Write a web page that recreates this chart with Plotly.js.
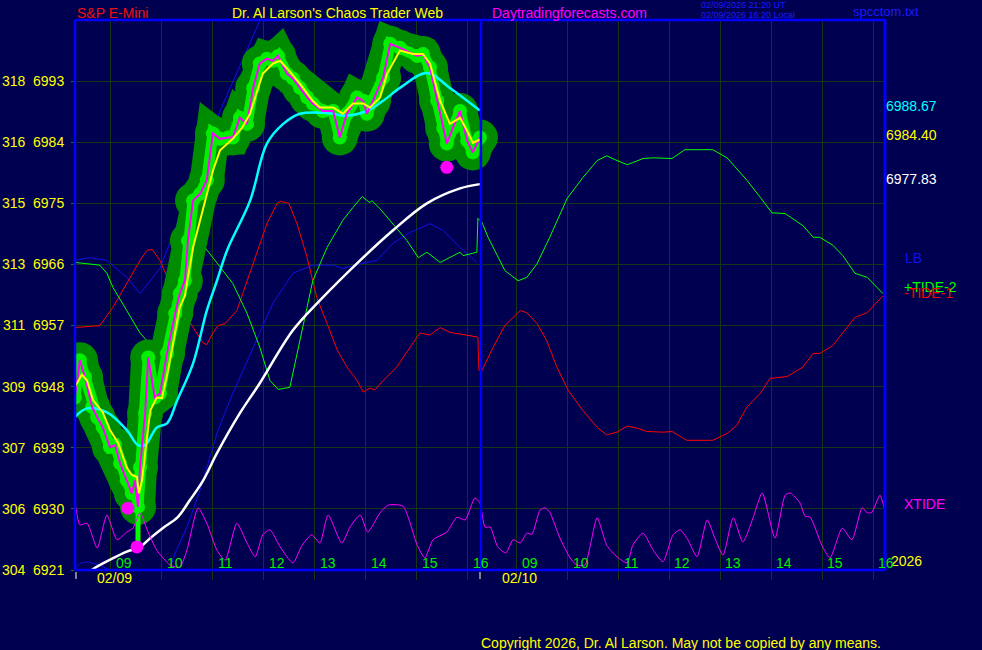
<!DOCTYPE html>
<html><head><meta charset="utf-8">
<script src="https://cdn.plot.ly/plotly-3.0.1.min.js"></script>
<style>html,body{margin:0;padding:0;background:#000050;overflow:hidden}#chart{width:982px;height:650px;}</style>
</head><body><div id="chart"></div>
<script>
// ---- time axis: t in clock hours; day 2 (02/10) coded as clock + 24 ----
const DAY2 = 7.96;           // session length used to join the two days on one axis
const SESSION_START = 8.294; // left edge of day 1
const SESSION_END2 = 24.189; // right edge of day 2 (axis units)
const hours = [9, 10, 11, 12, 13, 14, 15, 16];
const hourLabels = ["09", "10", "11", "12", "13", "14", "15", "16"];
const dayLabels = ["02/09", "02/10"];

// ---- price axis ----
const priceTicks = [6921, 6930, 6939, 6948, 6957, 6966, 6975, 6984, 6993];
const leftTicks = ["304", "306", "307", "309", "311", "313", "315", "316", "318"];

// ---- S&P E-Mini price (magenta) ----
const priceT = [8.29,8.39,8.49,8.63,8.73,8.84,8.98,9.08,9.18,9.31,9.41,9.47,9.53,9.57,9.67,9.73,9.86,9.96,10.10,10.26,10.35,10.45,10.51,10.61,10.75,10.88,11.00,11.14,11.30,11.39,11.53,11.67,11.79,11.92,12.06,12.18,12.28,12.45,12.57,12.71,12.85,12.96,13.16,13.36,13.49,13.63,13.83,13.95,14.02,14.14,14.34,14.48,14.67,15.01,15.12,15.26,15.40,15.52,15.59,15.71,15.85,15.99,16.10,16.24];
const priceV = [6946.4,6951.9,6949.4,6945.0,6943.5,6942.0,6939.1,6939.4,6936.7,6934.2,6932.3,6934.2,6930.3,6936.1,6944.1,6952.3,6946.4,6947.0,6952.9,6958.8,6961.7,6963.6,6969.5,6975.4,6976.4,6978.4,6985.3,6984.5,6984.7,6984.7,6987.6,6986.7,6992.0,6995.6,6996.3,6996.0,6996.7,6994.1,6993.4,6992.0,6990.6,6989.7,6988.6,6988.6,6984.7,6988.2,6990.6,6990.1,6988.2,6990.1,6993.5,6998.5,6997.9,6996.7,6997.0,6995.0,6990.1,6986.1,6983.8,6986.1,6988.6,6984.2,6982.5,6984.7];

// ---- short average (yellow) ----
const fastT = [8.29,8.43,8.53,8.65,8.84,8.98,9.14,9.31,9.41,9.51,9.55,9.61,9.67,9.77,9.90,10.00,10.12,10.26,10.35,10.45,10.61,10.75,10.88,11.00,11.14,11.28,11.39,11.57,11.73,11.87,11.98,12.18,12.32,12.51,12.71,12.96,13.10,13.36,13.55,13.75,13.95,14.08,14.28,14.42,14.67,14.93,15.12,15.26,15.46,15.65,15.85,15.99,16.10,16.24];
const fastV = [6947.9,6949.8,6948.9,6946.0,6944.2,6941.6,6939.7,6936.1,6935.0,6934.7,6932.3,6934.2,6938.2,6944.5,6946.4,6946.3,6950.4,6956.3,6959.7,6961.4,6968.5,6972.5,6976.4,6979.8,6982.8,6983.8,6984.5,6986.1,6988.2,6991.6,6994.1,6995.6,6996.0,6994.4,6992.6,6990.1,6989.1,6989.1,6988.2,6989.7,6989.7,6989.1,6990.6,6994.1,6997.5,6997.0,6997.0,6995.6,6990.1,6986.7,6987.6,6985.7,6983.9,6984.40];

// ---- medium average (cyan) ----
const midT = [8.29,8.53,8.92,9.31,9.53,9.67,9.90,10.10,10.30,10.61,10.88,11.08,11.28,11.73,12.06,12.38,12.71,13.36,13.55,14.02,14.34,14.67,15.20,15.65,16.24];
const midV = [6943.5,6944.8,6944.2,6941.6,6939.4,6939.4,6942.0,6942.6,6946.0,6951.4,6959.2,6963.6,6968.1,6975.4,6983.8,6986.7,6988.2,6988.2,6987.9,6988.6,6990.1,6992.0,6994.2,6992.0,6988.67];

// ---- long average (white) ----
const slowT = [8.39,8.65,8.98,9.31,9.57,9.77,10.02,10.30,10.55,10.81,11.08,11.53,11.92,12.57,13.10,13.89,14.53,15.20,15.85,16.24];
const slowV = [6919.8,6921.15,6922.5,6923.7,6924.4,6925.7,6927.2,6928.7,6931.3,6934.2,6938.2,6944.1,6948.5,6956.3,6960.7,6966.6,6971.0,6975.0,6977.2,6977.83];

// ---- LB lines (blue) ----
const lbT = [8.29,8.59,8.92,9.31,9.57,9.77,9.96,10.55,11.14,11.92,12.22];
const lbV = [6966.6,6967.0,6966.6,6964.1,6961.7,6963.6,6965.4,6976.9,6988.6,7001.9,7007.0];
const lb2T = [8.31,8.39,8.55,8.78,8.94,9.18,9.96,10.16,10.26,10.49,10.75,10.98,11.10,11.39,11.79,12.18,12.57,12.96,13.36,13.55,13.89,14.22,14.53,14.87,15.26,15.52,15.85,16.18];
const lb2V = [6921.3,6922.0,6922.2,6921.7,6921.1,6919.8,6919.8,6921.4,6923.5,6927.3,6932.8,6938.6,6941.6,6947.0,6953.8,6960.3,6964.7,6965.9,6965.9,6965.4,6966.1,6966.6,6969.1,6970.7,6972.0,6971.0,6968.5,6966.3];

// ---- +TIDE-2 (green) ----
const tide2T = [8.29,8.78,8.92,9.04,9.31,9.57,9.82,10.22,10.61,10.81,11.00,11.14,11.39,11.67,11.92,12.12,12.28,12.51,12.71,12.96,13.24,13.55,13.75,13.93,14.08,14.12,14.28,14.53,14.81,15.03,15.20,15.46,15.71,15.85,15.91,16.18,16.20,
  32.32,32.44,32.54,32.77,33.03,33.20,33.40,33.65,33.99,34.30,34.58,34.77,34.97,35.17,35.28,35.48,35.68,35.91,36.05,36.30,36.85,37.13,37.32,37.52,37.78,38.01,38.27,38.62,38.82,38.95,39.21,39.40,39.64,39.88,40.19];
const tide2V = [6966.3,6965.9,6964.7,6962.6,6959.2,6955.9,6953.8,6960.7,6968.1,6968.8,6967.0,6965.6,6963.2,6958.8,6953.8,6948.9,6947.6,6947.9,6954.8,6963.6,6968.5,6972.5,6974.4,6976.0,6975.1,6975.4,6974.2,6972.0,6969.5,6967.0,6967.8,6966.3,6967.3,6967.8,6967.3,6967.8,6972.8,
  6972.2,6970.0,6968.5,6965.1,6963.6,6964.1,6966.1,6970.0,6975.7,6978.8,6981.3,6982.0,6981.3,6980.7,6981.0,6981.6,6981.7,6981.7,6981.6,6982.9,6982.9,6981.7,6980.1,6978.4,6975.9,6973.6,6973.5,6971.7,6970.0,6970.0,6968.8,6967.3,6964.7,6964.1,6961.7];

// ---- -TIDE-1 (red) ----
const tide1T = [8.29,8.78,9.04,9.31,9.57,9.71,9.81,9.96,10.10,10.30,10.49,10.69,10.81,10.88,11.00,11.10,11.24,11.47,11.67,11.87,12.06,12.26,12.32,12.49,12.65,12.85,13.04,13.24,13.44,13.63,13.83,13.95,14.08,14.18,14.34,14.61,14.87,15.06,15.26,15.46,15.65,15.91,16.20,16.22,
  32.32,32.54,32.77,33.07,33.20,33.40,33.59,33.79,34.01,34.30,34.58,34.77,34.97,35.17,35.36,35.56,35.87,36.05,36.34,36.85,37.13,37.32,37.52,37.78,37.97,38.31,38.62,38.82,38.95,39.21,39.40,39.64,39.88,40.19];
const tide1V = [6956.7,6957.0,6959.7,6963.2,6966.6,6968.1,6968.2,6966.6,6964.1,6960.7,6958.2,6955.9,6954.4,6954.2,6955.9,6957.0,6957.3,6959.2,6963.6,6968.1,6972.0,6975.0,6975.3,6975.0,6972.0,6967.0,6961.1,6957.3,6953.4,6950.9,6948.9,6947.2,6947.8,6947.5,6948.9,6950.9,6953.8,6955.9,6955.6,6956.7,6956.0,6955.7,6955.3,6950.4,
  6950.4,6953.8,6957.0,6959.2,6958.9,6957.3,6954.8,6950.9,6947.5,6944.5,6942.0,6940.9,6941.3,6942.2,6941.9,6941.4,6941.3,6941.4,6940.1,6940.1,6941.1,6942.3,6945.0,6947.0,6949.2,6949.5,6950.9,6952.9,6952.9,6954.1,6955.9,6958.2,6958.9,6961.4];

// ---- XTIDE oscillator (own 0-100 scale) ----
const xtideT = [8.31,8.39,8.53,8.73,8.92,9.12,9.31,9.43,9.57,9.71,9.90,10.16,10.35,10.49,10.71,10.88,11.08,11.24,11.47,11.67,11.83,11.98,12.12,12.32,12.57,12.75,12.94,13.10,13.26,13.53,13.69,13.89,14.04,14.28,14.44,14.73,15.01,15.16,15.32,15.59,15.79,15.95,16.14,16.24,
  32.38,32.48,32.63,32.79,32.93,33.07,33.20,33.30,33.46,33.56,33.65,33.85,34.05,34.18,34.34,34.44,34.58,34.77,34.97,35.17,35.28,35.48,35.68,35.87,36.07,36.21,36.36,36.54,36.74,36.89,37.05,37.25,37.44,37.64,37.82,38.07,38.27,38.37,38.56,38.66,38.76,38.99,39.15,39.39,39.58,39.78,39.88,39.97,40.13,40.21];
const xtideV = [11.5,8.2,8.5,4.0,10.0,5.5,6.9,7.6,10.4,7.3,3.6,0.9,0.5,3.6,11.3,8.5,3.6,1.8,8.5,4.9,2.4,6.4,7.3,4.2,1.3,4.5,6.4,4.9,10.0,4.9,7.8,10.0,6.9,10.4,11.8,11.6,4.5,2.2,5.5,6.9,9.6,9.1,13.1,12.2,
  7.8,7.8,4.2,3.1,5.5,4.9,6.7,6.5,10.9,11.3,10.5,5.8,2.2,0.9,0.9,4.2,9.5,4.5,2.4,1.3,4.5,6.7,3.6,1.5,6.4,7.3,5.5,2.4,9.1,5.8,2.7,9.5,5.1,9.5,14.0,5.8,13.6,14.0,12.2,9.8,9.6,4.5,2.2,7.6,5.5,11.3,10.4,10.5,13.6,11.3];

// ---- low markers and spike ----
const dotT = [9.33, 9.51, 15.59];
const dotV = [6930.1, 6924.4, 6980.3];
const spikeT = [9.53, 9.53];
const spikeV = [6924.4, 6936.0];

// ---- right-edge readouts ----
const lastMid = "6988.67", lastFast = "6984.40", lastSlow = "6977.83";

function tx(t) { return t < 24 ? t : t - 24 + DAY2; }
const X = a => a.map(tx);

const BG = "#000050", GRID = "#143614", BLUE = "#0000ff";
const FONT = "Liberation Sans, Arial, sans-serif";

const traces = [
  {x: X(lbT), y: lbV, mode: "lines", line: {color: "#1010e8", width: 1}},
  {x: X(lb2T), y: lb2V, mode: "lines", line: {color: "#1010e8", width: 1}},
  {x: X(tide1T), y: tide1V, mode: "lines", line: {color: "#ff0000", width: 1}},
  {x: X(tide2T), y: tide2V, mode: "lines", line: {color: "#00ff00", width: 1}},
  {x: X(xtideT), y: xtideV, yaxis: "y2", mode: "lines", line: {color: "#ff00ff", width: 1, shape: "spline", smoothing: 0.6}},
  {x: X(priceT), y: priceV, mode: "lines+markers", line: {color: "#008c00", width: 34}, marker: {size: 36, color: "#008c00"}},
  {x: X(priceT), y: priceV, mode: "lines+markers", line: {color: "#00f000", width: 11}, marker: {size: 14, color: "#00f000"}},
  {x: X(spikeT), y: spikeV, mode: "lines", line: {color: "#00ff00", width: 5}},
  {x: X(slowT), y: slowV, mode: "lines", line: {color: "#ffffff", width: 2.5, shape: "spline"}},
  {x: X(midT), y: midV, mode: "lines", line: {color: "#00ffff", width: 2.5, shape: "spline"}},
  {x: X(priceT), y: priceV, mode: "lines", line: {color: "#ff00ff", width: 2}},
  {x: X(fastT), y: fastV, mode: "lines", line: {color: "#ffff00", width: 2}},
  {x: X(dotT), y: dotV, mode: "markers", marker: {size: 13, color: "#ff00ff"}}
];

const W = 982, H = 650, L = 75, R = 885, T = 20, B = 570;
const px = x => (x - L) / (R - L);
const py = y => (B - y) / (B - T);
function ann(text, x, y, color, size, anchor) {
  return {text: text, xref: "paper", yref: "paper", x: px(x), y: py(y), xanchor: anchor || "left",
    yanchor: "middle", showarrow: false, font: {family: FONT, size: size || 14, color: color}};
}

const annotations = [
  ann("S&amp;P E-Mini", 75, 13, "#ee1111"),
  ann("Dr. Al Larson's Chaos Trader Web", 230, 13, "#ffff00"),
  ann("Daytradingforecasts.com", 490, 13, "#ff00ff"),
  ann("02/09/2026 21:20 UT", 699, 5.5, "#1a1aff", 9),
  ann("02/09/2026 16:20 Local", 699, 15.5, "#1a1aff", 9),
  ann("spcctom.txt", 851, 11.5, "#1a1aff", 13),
  ann(lastMid, 884, 106, "#00ffff"),
  ann(lastFast, 884, 135, "#ffff00"),
  ann(lastSlow, 884, 179, "#ffffff"),
  ann("LB", 903, 258, "#1010e8"),
  ann("+TIDE-2", 902, 287, "#00ff00"),
  ann("-TIDE-1", 902, 292.5, "#ff0000"),
  ann("XTIDE", 902, 504, "#ff00ff"),
  ann("2026", 889, 561, "#ffff00"),
  ann("Copyright 2026, Dr. Al Larson. May not be copied by any means.", 479, 643, "#ffff00"),
  ann(dayLabels[0], 114, 578, "#ffff00", 14, "center"),
  ann(dayLabels[1], 519, 578, "#ffff00", 14, "center")
];
[0, 1].forEach(d => hours.forEach((h, i) => {
  annotations.push({text: hourLabels[i], xref: "x", yref: "paper", x: h + d * DAY2, y: py(563),
    xanchor: "left", yanchor: "middle", xshift: 3, showarrow: false,
    font: {family: FONT, size: 14, color: "#00ee00"}});
}));

const shapes = [
  {type: "line", xref: "paper", yref: "paper", x0: 0, x1: 0, y0: 0, y1: 1, line: {color: BLUE, width: 2.5}},
  {type: "line", xref: "paper", yref: "paper", x0: 0, x1: 1, y0: 1, y1: 1, line: {color: BLUE, width: 2.5}},
  {type: "line", xref: "paper", yref: "paper", x0: 0, x1: 1, y0: 0, y1: 0, line: {color: BLUE, width: 2.5}},
  {type: "line", xref: "paper", yref: "paper", x0: 1, x1: 1, y0: 0, y1: 1, line: {color: BLUE, width: 3}},
  {type: "line", xref: "x", yref: "paper", x0: 8.30 + DAY2, x1: 8.30 + DAY2, y0: 0, y1: 1, line: {color: BLUE, width: 2.5}},
  {type: "line", xref: "paper", yref: "paper", x0: px(76), x1: px(76), y0: py(572), y1: py(579), line: {color: "#ffffcc", width: 1}},
  {type: "line", xref: "paper", yref: "paper", x0: px(480), x1: px(480), y0: py(572), y1: py(579), line: {color: "#ffffcc", width: 1}}
];

const layout = {
  width: W, height: H, margin: {l: L, r: W - R, t: T, b: H - B},
  paper_bgcolor: BG, plot_bgcolor: BG, showlegend: false,
  xaxis: {range: [SESSION_START, SESSION_END2], tickvals: hours.concat(hours.map(h => h + DAY2)),
    showticklabels: false, showgrid: true, gridcolor: GRID, gridwidth: 1, ticks: "outside", ticklen: 9,
    tickcolor: GRID, tickwidth: 1, zeroline: false, showline: false, fixedrange: true},
  yaxis: {range: [6921, 7002], tickvals: priceTicks,
    ticktext: priceTicks.map((p, i) => leftTicks[i] + "\u00a0\u00a0" + p),
    showgrid: true, gridcolor: GRID, gridwidth: 1, ticks: "outside", ticklen: 3, tickcolor: "#2a6a2a",
    tickfont: {family: FONT, size: 14, color: "#ffff00"}, ticklabelstandoff: 4,
    zeroline: false, showline: false, fixedrange: true},
  yaxis2: {range: [0, 100], overlaying: "y", visible: false, fixedrange: true},
  annotations: annotations, shapes: shapes
};

Plotly.newPlot("chart", traces, layout, {staticPlot: true, displayModeBar: false});
</script>
</body></html>
